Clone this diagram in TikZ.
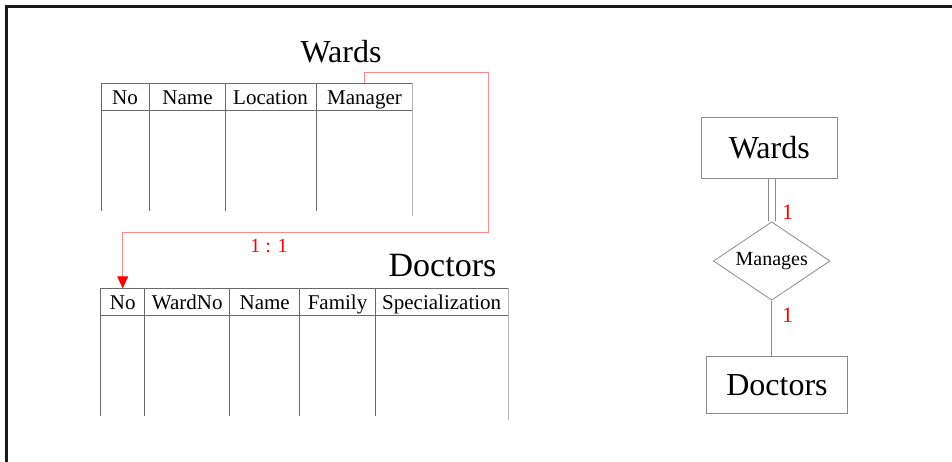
\documentclass[tikz,border=0pt]{standalone}
\usepackage{fontspec}
\setmainfont{Liberation Serif}
\usetikzlibrary{shapes.geometric,arrows.meta}
\definecolor{tline}{HTML}{6A6A6A}
\definecolor{erline}{HTML}{8A8A8A}
\definecolor{lred}{HTML}{FF8A8A}
\tikzset{
  hdr/.style={inner sep=0pt, minimum height=27pt, text height=16.5pt, text depth=1.5pt, font=\fontsize{21}{24}\selectfont},
  ttl/.style={inner sep=0pt, font=\fontsize{32}{36}\selectfont},
  tbl/.style={draw=tline, line width=0.8pt},
  erbox/.style={draw=erline, line width=0.8pt, inner sep=0pt, font=\fontsize{32}{36}\selectfont},
  card/.style={inner sep=0pt, text=red, font=\fontsize{22}{26}\selectfont},
}
\begin{document}
\begin{tikzpicture}[x=1pt,y=-1pt]
\useasboundingbox (0,0) rectangle (952,462);
% frame
\draw[line width=3pt, color=black!90] (6.5,462) -- (6.5,6.5) -- (952,6.5);

% Wards table
\node[ttl] (wtitle) at (341,52) {Wards};
\node[hdr, minimum width=48pt] (wno) at (125,97) {No};
\node[hdr, minimum width=76pt] (wname) at (187.5,97) {Name};
\node[hdr, minimum width=91pt] (wloc) at (270.5,97) {Location};
\node[hdr, minimum width=96pt] (wmgr) at (364.5,97) {Manager};
\draw[tbl] (101,83.3) -- (412.7,83.3);
\draw[tbl] (101,110) -- (412.7,110);
\draw[tbl] (101,83.3) -- (101,211);
\draw[tbl] (149.5,83.3) -- (149.5,211);
\draw[tbl] (225.5,83.3) -- (225.5,211);
\draw[tbl] (316,83.3) -- (316,211);
\draw[tbl, draw=black!30] (412.7,83.3) -- (412.7,216);

% Doctors table
\node[ttl, font=\fontsize{34}{38}\selectfont] (dtitle) at (442.5,266) {Doctors};
\node[hdr, minimum width=44pt] (dno) at (122.7,302) {No};
\node[hdr, minimum width=85pt] (dward) at (187.2,302) {WardNo};
\node[hdr, minimum width=70pt] (dname) at (264.7,302) {Name};
\node[hdr, minimum width=75pt] (dfam) at (337.5,302) {Family};
\node[hdr, minimum width=133pt] (dspec) at (441.7,302) {Specialization};
\draw[tbl] (100.7,288.3) -- (508,288.3);
\draw[tbl] (100.7,315.7) -- (508,315.7);
\draw[tbl] (100.7,288.3) -- (100.7,416);
\draw[tbl] (144.7,288.3) -- (144.7,416);
\draw[tbl] (229.7,288.3) -- (229.7,416);
\draw[tbl] (299.7,288.3) -- (299.7,416);
\draw[tbl] (375.3,288.3) -- (375.3,416);
\draw[tbl, draw=black!30] (508,288.3) -- (508,420);

% relationship connector
\coordinate (rc) at (488.7,232.7);
\draw[lred, line width=0.9pt, -{Triangle[color=red, length=12pt, width=11pt]}]
  (wmgr.north) -- ++(0,-11) -| (rc) -| (dno.north);
\node[card, font=\fontsize{20}{24}\selectfont] (ratio) at (269,246) {1 : 1};

% ER diagram
\node[erbox, minimum width=136pt, minimum height=61pt] (ew) at (769.3,147.8) {Wards};
\node[erbox, diamond, aspect=1.5, minimum width=116.7pt, minimum height=78.3pt,
      font=\fontsize{20}{22}\selectfont] (md) at (771.7,261) {Manages};
\node[erbox, minimum width=140.6pt, minimum height=56.6pt] (ed) at (777,385) {Doctors};
\draw[draw=erline, line width=0.8pt, double=white, double distance=6.4pt]
  (md.north |- ew.south) -- (md.north);
\draw[draw=erline, line width=0.8pt] (md.south) -- (md.south |- ed.north);
\node[card] (c1) at (787.5,212) {1};
\node[card] (c2) at (787.5,315) {1};
\end{tikzpicture}
\end{document}
